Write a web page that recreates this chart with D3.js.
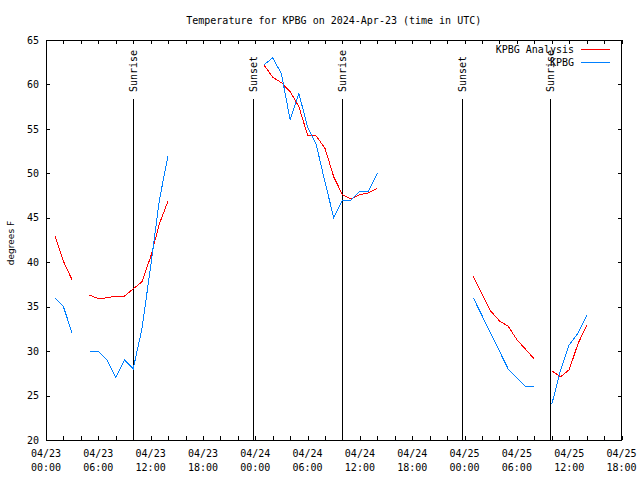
<!DOCTYPE html>
<html>
<head>
<meta charset="utf-8">
<script src="https://cdn.jsdelivr.net/npm/d3@7"></script>
<style>
  html, body { margin: 0; padding: 0; background: #fff; }
  svg { display: block; }
  text { font-family: "DejaVu Sans Mono", monospace; font-size: 10px; fill: #000; }
</style>
</head>
<body>
<svg id="chart" width="640" height="480"></svg>
<script>
// ---------------- data ----------------
const chartTitle = "Temperature for KPBG on 2024-Apr-23 (time in UTC)";
const yLabel = "degrees F";
const seriesNames = ["KPBG Analysis", "KPBG"];
const seriesColors = ["#ff0000", "#0080ff"];

// hour offsets from 2024-04-23 00:00 UTC
const hourOffsets = [
  1, 2, 3, 4, 5, 6, 7, 8, 9, 10, 11, 12, 13, 14, 15, 16, 17, 18, 19, 20, 21,
  22, 23, 24, 25, 26, 27, 28, 29, 30, 31, 32, 33, 34, 35, 36, 37, 38, 39, 40, 41,
  42, 43, 44, 45, 46, 47, 48, 49, 50, 51, 52, 53, 54, 55, 56, 57, 58, 59, 60, 61, 62
];
// null = missing
const analysisTemps = [
  43.0, 40.1, 38.0, null, 36.3, 35.9, 36.0, 36.2, 36.2, 37.0, 37.8, 40.6, 44.3, 46.9,
  null, null, null, null, null, null, null, null, null, null,
  62.2, 60.8, 60.2, 59.2, 57.5, 54.3, 54.2, 52.8, 49.6, 47.6, 47.1, 47.6, 47.8, 48.3,
  null, null, null, null, null, null, null, null, null, null,
  38.4, 36.4, 34.5, 33.4, 32.8, 31.3, 30.2, 29.1,
  null,
  27.8, 27.1, 27.9, 30.8, 32.9
];
const observedTemps = [
  36, 35, 32, null, 30, 30, 29, 27, 29, 28, 32.5, 39.5, 47, 52,
  null, null, null, null, null, null, null, null, null, null,
  62.2, 63, 61.2, 56, 59, 55.2, 53.2, 49, 45, 47, 47, 48, 48, 50,
  null, null, null, null, null, null, null, null, null, null,
  36, 34, 32, 30, 28, 27, 26, 26,
  null,
  24, 27.8, 30.7, 32, 34
];

const sunEventLabels = ["Sunrise", "Sunset", "Sunrise", "Sunset", "Sunrise"];
const sunEventTimes = ["2024-04-23T10:00Z", "2024-04-23T23:45Z", "2024-04-24T09:57Z",
                       "2024-04-24T23:45Z", "2024-04-25T09:54Z"];

const xStart = "2024-04-23T00:00Z";
const xEnd = "2024-04-25T18:00Z";
const yTicks = [20, 25, 30, 35, 40, 45, 50, 55, 60, 65];

// ---------------- layout ----------------
const svg = d3.select("#chart");
const L = 46, R = 621.5, T = 40, B = 440;
const t0 = new Date(xStart);
const x = d3.scaleUtc().domain([t0, new Date(xEnd)]).range([L, R]);
const y = d3.scaleLinear().domain([20, 65]).range([B, T]);
const hourToDate = h => new Date(t0.getTime() + h * 3600e3);

// title
svg.append("text").attr("x", (L + R) / 2).attr("y", 23.5)
  .attr("text-anchor", "middle").text(chartTitle);

// y label
svg.append("text")
  .attr("transform", "translate(13.5,243) rotate(-90)")
  .attr("text-anchor", "middle")
  .style("font-family", "'DejaVu Sans', sans-serif").style("font-size", "9px")
  .text(yLabel);

// axes
const tickLen = 4;
const xTickVals = d3.utcHour.every(2).range(t0, new Date(new Date(xEnd).getTime() + 1));
const xLabelVals = d3.utcHour.every(6).range(t0, new Date(new Date(xEnd).getTime() + 1));
const fmtDate = d3.utcFormat("%m/%d"), fmtTime = d3.utcFormat("%H:%M");

const xAxisB = d3.axisBottom(x).tickValues(xTickVals).tickSizeInner(-tickLen).tickSizeOuter(0).tickFormat("");
const xAxisT = d3.axisTop(x).tickValues(xTickVals).tickSizeInner(-tickLen).tickSizeOuter(0).tickFormat("");
const yAxisL = d3.axisLeft(y).tickValues(yTicks).tickSizeInner(-tickLen).tickSizeOuter(0).tickPadding(7).tickFormat(d3.format("d"));
const yAxisR = d3.axisRight(y).tickValues(yTicks).tickSizeInner(-tickLen).tickSizeOuter(0).tickFormat("");

function styleAxis(g) {
  g.select(".domain").remove();
  g.selectAll("line").attr("stroke", "#000").attr("shape-rendering", "crispEdges");
  g.selectAll("text").attr("font-family", null).attr("font-size", null).attr("fill", "#000");
}
svg.append("g").attr("transform", `translate(0,${B})`).call(xAxisB).call(styleAxis);
svg.append("g").attr("transform", `translate(0,${T})`).call(xAxisT).call(styleAxis);
svg.append("g").attr("transform", `translate(${L},0)`).call(yAxisL).call(styleAxis);
svg.append("g").attr("transform", `translate(${R},0)`).call(yAxisR).call(styleAxis);

// x tick labels (two lines)
const xl = svg.append("g");
xLabelVals.forEach(d => {
  const t = xl.append("text").attr("text-anchor", "middle");
  t.append("tspan").attr("x", x(d)).attr("y", 456.5).text(fmtDate(d));
  t.append("tspan").attr("x", x(d)).attr("y", 470.5).text(fmtTime(d));
});

// frame
svg.append("rect").attr("x", L).attr("y", T).attr("width", R - L).attr("height", B - T)
  .attr("fill", "none").attr("stroke", "#000").attr("shape-rendering", "crispEdges");

// sun events
sunEventTimes.forEach((s, i) => {
  const xx = x(new Date(s));
  svg.append("line").attr("x1", xx).attr("x2", xx).attr("y1", 99).attr("y2", B)
    .attr("stroke", "#000").attr("shape-rendering", "crispEdges");
  svg.append("text").attr("transform", `translate(${xx},92) rotate(-90)`)
    .attr("dominant-baseline", "central").attr("text-anchor", "start")
    .text(sunEventLabels[i]);
});

// series
const seriesData = [analysisTemps, observedTemps].map(vals =>
  hourOffsets.map((h, i) => ({ t: hourToDate(h), v: vals[i] })));
const line = d3.line().defined(d => d.v !== null).x(d => x(d.t)).y(d => y(d.v));
seriesData.forEach((data, i) => {
  svg.append("path").datum(data).attr("d", line)
    .attr("fill", "none").attr("stroke", seriesColors[i]).attr("stroke-width", 1)
    .attr("shape-rendering", "crispEdges");
});

// legend
seriesNames.forEach((n, i) => {
  const yy = 49.5 + i * 13;
  svg.append("text").attr("x", 574).attr("y", yy).attr("text-anchor", "end")
    .attr("dominant-baseline", "central").text(n);
  svg.append("line").attr("x1", 581).attr("x2", 610).attr("y1", yy).attr("y2", yy)
    .attr("stroke", seriesColors[i]).attr("shape-rendering", "crispEdges");
});
</script>
</body>
</html>
